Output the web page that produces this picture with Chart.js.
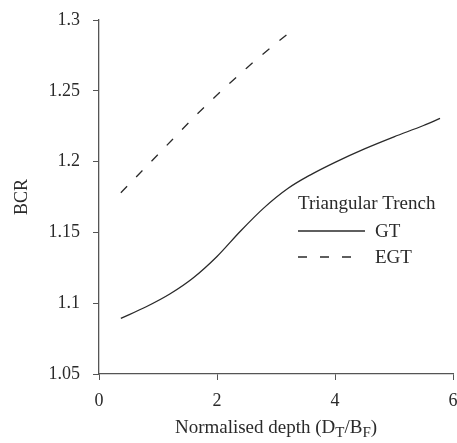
<!DOCTYPE html>
<html>
<head>
<meta charset="utf-8">
<script src="https://cdn.jsdelivr.net/npm/chart.js@4/dist/chart.umd.min.js"></script>
<style>
  html, body { margin: 0; padding: 0; background: #fff; }
  #wrap { width: 457px; height: 443px; }
</style>
</head>
<body>
<div id="wrap"><canvas id="bcrChart" width="457" height="443"></canvas></div>
<script>
/* ── DATA ── */
const gtX  = [0.37, 0.8, 1.2, 1.6, 2.0, 2.4, 2.8, 3.2, 3.6, 4.0, 4.5, 5.0, 5.5, 5.78];
const gtY  = [1.0893, 1.0975, 1.1065, 1.118, 1.133, 1.151, 1.1675, 1.181, 1.191, 1.1995, 1.209, 1.2175, 1.2255, 1.2305];
const egtX = [0.37, 1.0, 1.7, 2.5, 3.25];
const egtY = [1.178, 1.205, 1.235, 1.266, 1.292];

const xTicks = [0, 2, 4, 6];
const yTicks = ['1.05', '1.1', '1.15', '1.2', '1.25', '1.3'];

const legendTitle  = 'Triangular Trench';
const seriesNames  = ['GT', 'EGT'];

const FONT = 'Liberation Serif';
const INK  = '#2a2a2a';
const AXIS = '#555';

const toPoints = (xs, ys) => xs.map((x, i) => ({ x, y: ys[i] }));

// legend drawn inside the plot, like the original figure
const insideLegend = {
    id: 'insideLegend',
    afterDraw(chart) {
        const c = chart.ctx;
        c.save();
        c.font = `19px "${FONT}"`;
        c.fillStyle = INK;
        c.textBaseline = 'alphabetic';
        c.fillText(legendTitle, 298, 209);
        chart.data.datasets.forEach((ds, i) => {
            const y = 231 + i * 26;
            c.strokeStyle = ds.borderColor;
            c.lineWidth = ds.borderWidth;
            c.setLineDash(ds.borderDash || []);
            c.beginPath();
            c.moveTo(298, y);
            c.lineTo(ds.borderDash ? 352 : 365, y);
            c.stroke();
            c.setLineDash([]);
            c.fillText(ds.label, 375, y + 6);
        });
        c.restore();
    }
};

// x title with subscripts: Normalised depth (D_T/B_F)
const xTitle = {
    id: 'xTitle',
    afterDraw(chart) {
        const c = chart.ctx;
        const area = chart.chartArea;
        const parts = [
            ['Normalised depth (D', false], ['T', true], ['/B', false], ['F', true], [')', false]
        ];
        const big = `19px "${FONT}"`, small = `15px "${FONT}"`;
        c.save();
        let w = 0;
        parts.forEach(([t, sub]) => { c.font = sub ? small : big; w += c.measureText(t).width; });
        let x = (area.left + area.right) / 2 - w / 2;
        const base = 433;
        c.fillStyle = INK;
        c.textBaseline = 'alphabetic';
        parts.forEach(([t, sub]) => {
            c.font = sub ? small : big;
            c.fillText(t, x, sub ? base + 4 : base);
            x += c.measureText(t).width;
        });
        c.restore();
    }
};

const ctx = document.getElementById('bcrChart').getContext('2d');

new Chart(ctx, {
    type: 'line',
    data: {
        datasets: [
            {
                label: seriesNames[0],
                data: toPoints(gtX, gtY),
                borderColor: INK,
                borderWidth: 1.3,
                pointRadius: 0,
                cubicInterpolationMode: 'monotone',
                fill: false,
            },
            {
                label: seriesNames[1],
                data: toPoints(egtX, egtY),
                borderColor: INK,
                borderWidth: 1.3,
                borderDash: [9, 13],
                pointRadius: 0,
                cubicInterpolationMode: 'monotone',
                fill: false,
            }
        ]
    },
    options: {
        responsive: false,
        animation: false,
        layout: { padding: { top: 20, right: 4, left: 0, bottom: 0 } },
        plugins: {
            legend: { display: false },
            tooltip: { enabled: false },
        },
        scales: {
            x: {
                type: 'linear',
                min: 0,
                max: 6,
                afterBuildTicks: s => { s.ticks = xTicks.map(v => ({ value: v })); },
                afterFit: s => { s.height = 69; s.paddingLeft = 0; s.paddingRight = 0; },
                grid: { drawOnChartArea: false, drawTicks: true, tickLength: 6, color: AXIS },
                border: { color: AXIS, width: 1.3 },
                ticks: {
                    color: INK,
                    padding: 10,
                    maxRotation: 0,
                    font: { family: FONT, size: 18 },
                    callback: v => String(v),
                },
            },
            y: {
                type: 'linear',
                min: 1.05,
                max: 1.3,
                afterBuildTicks: s => { s.ticks = yTicks.map(v => ({ value: parseFloat(v) })); },
                afterFit: s => { s.width = 99; s.paddingTop = 0; s.paddingBottom = 0; },
                grid: { drawOnChartArea: false, drawTicks: true, tickLength: 6, color: AXIS },
                border: { color: AXIS, width: 1.3 },
                ticks: {
                    color: INK,
                    padding: 13,
                    font: { family: FONT, size: 18 },
                    callback: (v, i) => yTicks[i],
                },
                title: {
                    display: true,
                    text: 'BCR',
                    color: INK,
                    font: { family: FONT, size: 18 },
                    padding: { top: 11, bottom: 0 },
                },
            }
        }
    },
    plugins: [insideLegend, xTitle]
});
</script>
</body>
</html>
